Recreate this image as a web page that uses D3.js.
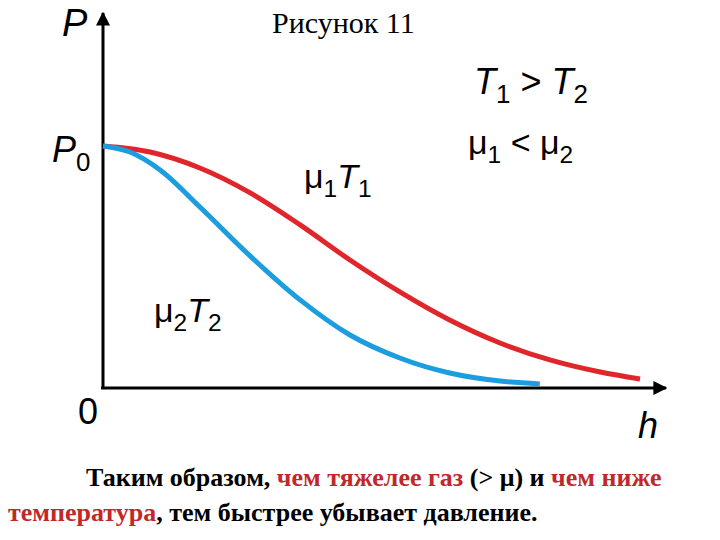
<!DOCTYPE html>
<html><head><meta charset="utf-8">
<script src="https://cdn.jsdelivr.net/npm/d3@7"></script>
<style>body{margin:0;background:#fff}</style>
</head><body>
<svg width="720" height="540"></svg>
<script>
// h in relative units, P relative to P0
const redH = [0, 8.4, 17.3, 26.3, 35.2, 44.1, 53.0, 61.9, 70.9, 79.8, 88.8, 95.9];
const redP = [1, 0.975, 0.909, 0.806, 0.674, 0.529, 0.397, 0.281, 0.186, 0.116, 0.066, 0.037];
const blueH = [0, 4.8, 10.2, 17.3, 26.3, 35.2, 44.1, 53.0, 61.9, 70.9, 78.0];
const blueP = [1, 0.975, 0.901, 0.748, 0.545, 0.364, 0.219, 0.124, 0.062, 0.029, 0.017];

let svg = d3.select('svg');
let xScale = d3.scaleLinear().domain([0, 100]).range([103, 663]);
let yScale = d3.scaleLinear().domain([0, 1]).range([388, 146]);

let defs = svg.append('defs');
defs.append('marker').attr('id', 'arr').attr('viewBox', '0 0 10 10')
    .attr('refX', 9).attr('refY', 5).attr('markerWidth', 14).attr('markerHeight', 14)
    .attr('markerUnits', 'userSpaceOnUse').attr('orient', 'auto')
    .append('path').attr('d', 'M0,0L10,5L0,10z').attr('fill', '#000');

// axes
svg.append('line').attr('x1', 103).attr('y1', 388).attr('x2', 103).attr('y2', 13)
    .attr('stroke', '#000').attr('stroke-width', 3).attr('marker-end', 'url(#arr)');
svg.append('line').attr('x1', 101).attr('y1', 388).attr('x2', 666).attr('y2', 388)
    .attr('stroke', '#000').attr('stroke-width', 3).attr('marker-end', 'url(#arr)');

let line = d3.line().x(d => xScale(d[0])).y(d => yScale(d[1])).curve(d3.curveMonotoneX);
svg.append('path').datum(redH.map((h, i) => [h, redP[i]])).attr('d', line)
    .attr('fill', 'none').attr('stroke', '#e0262b').attr('stroke-width', 5);
svg.append('path').datum(blueH.map((h, i) => [h, blueP[i]])).attr('d', line)
    .attr('fill', 'none').attr('stroke', '#1b9ddf').attr('stroke-width', 5);

let sans = 'Liberation Sans, Arial, sans-serif';
let txt = (x, y, size, parts, opts = {}) => {
    let t = svg.append('text').attr('x', x).attr('y', y).attr('font-size', size)
        .attr('font-family', opts.family || sans);
    if (opts.len) t.attr('textLength', opts.len).attr('lengthAdjust', 'spacing');
    parts.forEach(p => {
        let s = t.append('tspan').text(p.t);
        if (p.i) s.attr('font-style', 'italic');
        if (p.sub) s.attr('font-size', size * 0.72).attr('dy', size * 0.25);
        if (p.up) s.attr('dy', -size * 0.25);
        if (p.fill) s.attr('fill', p.fill);
        if (p.b) s.attr('font-weight', 'bold');
    });
    return t;
};
txt(62, 36, 38, [{t: 'P', i: 1}]);
txt(272, 33, 30, [{t: 'Рисунок 11'}], {family: 'Liberation Serif, serif'});
txt(474, 94, 36, [{t: 'T', i: 1}, {t: '1', sub: 1}, {t: ' > ', up: 1}, {t: 'T', i: 1}, {t: '2', sub: 1}]);
txt(468, 154, 34, [{t: 'μ'}, {t: '1', sub: 1}, {t: ' < ', up: 1}, {t: 'μ'}, {t: '2', sub: 1}]);
txt(304, 188, 34, [{t: 'μ'}, {t: '1', sub: 1}, {t: 'T', i: 1, up: 1}, {t: '1', sub: 1}]);
txt(154, 322, 34, [{t: 'μ'}, {t: '2', sub: 1}, {t: 'T', i: 1, up: 1}, {t: '2', sub: 1}]);
txt(52, 162, 36, [{t: 'P', i: 1}, {t: '0', sub: 1}]);
txt(78, 424, 36, [{t: '0'}]);
txt(638, 438, 36, [{t: 'h', i: 1}]);

let red = '#c0282a', serif = 'Liberation Serif, serif';
txt(86, 486, 26, [{t: 'Таким образом, ', b: 1}, {t: 'чем тяжелее газ', b: 1, fill: red},
    {t: ' (> μ) и ', b: 1}, {t: 'чем ниже', b: 1, fill: red}], {family: serif});
txt(8, 521, 26, [{t: 'температура', b: 1, fill: red}, {t: ', тем быстрее убывает давление.', b: 1}], {family: serif});
</script>
</body></html>
